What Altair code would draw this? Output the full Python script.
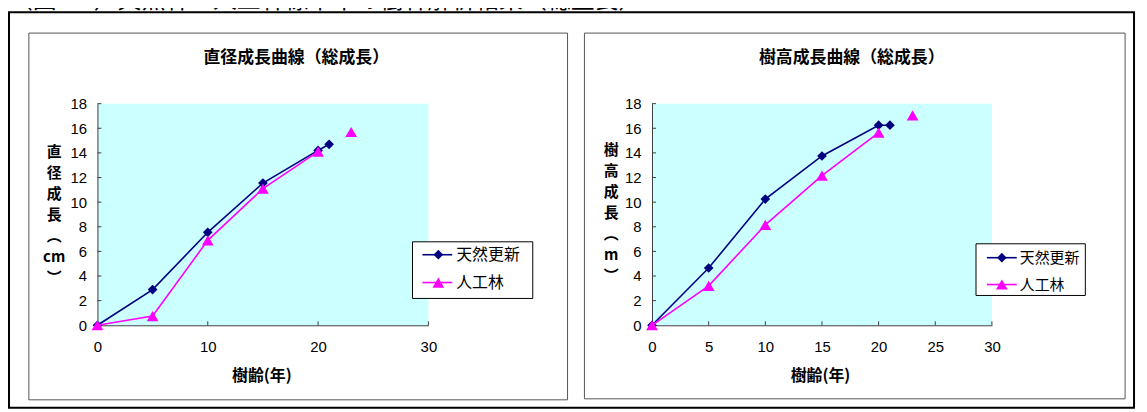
import altair as alt
import pandas as pd

# ---------------- data ----------------
ages_nat = [0, 5, 10, 15, 20, 21]
ages_art = [0, 5, 10, 15, 20, 23]
dia_nat = [0.0, 2.9, 7.55, 11.55, 14.2, 14.7]
dia_art = [0.0, 0.75, 6.9, 11.1, 14.1, 15.7]
hgt_nat = [0.0, 4.65, 10.25, 13.75, 16.25, 16.25]
hgt_art = [0.0, 3.2, 8.15, 12.15, 15.65, 17.05]
seg_nat = [1, 1, 1, 1, 1, 1]
seg_art = [1, 1, 1, 1, 1, 2]
series_names = ["天然更新", "人工林"]
series_colors = ["#000080", "#FF00FF"]
series_shapes = ["diamond", "triangle-up"]
left_xticks = [0, 10, 20, 30]
right_xticks = [0, 5, 10, 15, 20, 25, 30]
y_ticks = [0, 2, 4, 6, 8, 10, 12, 14, 16, 18]
left_title = "直径成長曲線（総成長）"
right_title = "樹高成長曲線（総成長）"
x_title = "樹齢(年)"
left_ytitle = ["直", "径", "成", "長", "︵", "cm", "︶"]
right_ytitle = ["樹", "高", "成", "長", "︵", "m", "︶"]
caption = "（図－6）天然林・人工林標準木の樹幹解析結果（総生長）"

JP = "Noto Sans CJK JP"
NUM = "Liberation Sans"
H = 223
AXC = "#404040"


def series_df(nat, art):
    rows = []
    for a, v, s in zip(ages_nat, nat, seg_nat):
        rows.append({"series": series_names[0], "age": a, "value": v, "seg": s})
    for a, v, s in zip(ages_art, art, seg_art):
        rows.append({"series": series_names[1], "age": a, "value": v, "seg": s})
    return pd.DataFrame(rows)


def one():
    return alt.Data(values=[{"k": 0}])


def rect(b, stroke, sw, fill=None):
    kw = dict(stroke=stroke, strokeWidth=sw)
    if fill is None:
        kw["fillOpacity"] = 0
    else:
        kw["fill"] = fill
    return alt.Chart(one()).mark_rect(**kw).encode(
        x=alt.value(b[0]), x2=alt.value(b[1]), y=alt.value(b[2]), y2=alt.value(b[3]))


def label(txt, x, y, size, weight="normal", align="center", baseline="middle"):
    return alt.Chart(one()).mark_text(
        font=JP, fontSize=size, fontWeight=weight, align=align, baseline=baseline, color="black"
    ).encode(x=alt.value(x), y=alt.value(y), text=alt.value(txt))


def panel(nat, art, xticks, width, title, ytitle, g, extra=None):
    df = series_df(nat, art)
    X = alt.X("age:Q", scale=alt.Scale(domain=[0, 30], nice=False),
              axis=alt.Axis(values=xticks, ticks=False, tickSize=0, grid=False,
                            domainColor=AXC, labelFont=NUM, labelFontSize=15,
                            labelColor="black", labelPadding=14, labelFlush=False,
                            title=x_title, titleFont=JP, titleFontSize=16,
                            titleFontWeight="bold", titleColor="black",
                            titleX=g["xt_x"], titleY=51, titleBaseline="middle",
                            titleAlign="center"))
    Y = alt.Y("value:Q", scale=alt.Scale(domain=[0, 18], nice=False),
              axis=alt.Axis(values=y_ticks, ticks=False, tickSize=0, grid=False,
                            domainColor=AXC, labelFont=NUM, labelFontSize=15,
                            labelColor="black", labelPadding=11, labelFlush=False,
                            title=ytitle, titleAngle=0, titleFont=JP, titleFontSize=15,
                            titleFontWeight="bold", titleColor="black",
                            titleX=g["yt_x"], titleY=g["yt_y"], titleBaseline="top",
                            titleAlign="center", titleLineHeight=21))
    C = alt.Color("series:N", scale=alt.Scale(domain=series_names, range=series_colors),
                  legend=None)
    base = alt.Chart(df)
    layers = []
    if extra:
        layers += extra
    layers.append(rect(g["box"], "#555555", 1))
    layers.append(label(title, g["title_x"], -46, 17, "bold"))
    layers.append(alt.Chart(pd.DataFrame({"age": xticks})).mark_rule(color=AXC).encode(
        x=X, y=alt.value(H), y2=alt.value(H - 4)))
    layers.append(alt.Chart(pd.DataFrame({"value": y_ticks})).mark_rule(color=AXC).encode(
        y=Y, x=alt.value(0), x2=alt.value(4)))
    sizes = [95, 140]
    for i, name in enumerate(series_names):
        sub = base.transform_filter(alt.datum.series == name)
        layers.append(sub.mark_line(strokeWidth=1.6).encode(x=X, y=Y, color=C, detail="seg:N"))
        layers.append(sub.mark_point(filled=True, opacity=1, size=sizes[i],
                                     shape=series_shapes[i]).encode(x=X, y=Y, color=C))
    # legend
    layers.append(rect(g["leg_box"], "black", 1, "white"))
    for i, name in enumerate(series_names):
        ry = g["leg_rows"][i]
        layers.append(alt.Chart(one()).mark_rule(color=series_colors[i], strokeWidth=1.6).encode(
            x=alt.value(g["leg_line"][0]), x2=alt.value(g["leg_line"][1]), y=alt.value(ry)))
        layers.append(alt.Chart(one()).mark_point(filled=True, opacity=1, size=sizes[i],
                                                  shape=series_shapes[i],
                                                  color=series_colors[i]).encode(
            x=alt.value(g["leg_mark"]), y=alt.value(ry)))
        layers.append(label(name, g["leg_text"], ry, g["leg_fs"], align="left"))
    return alt.layer(*layers).properties(width=width, height=H)


g_left = dict(box=(-69, 473, -71, 298), title_x=200, xt_x=165, yt_x=-44, yt_y=41.5,
              leg_box=(317, 438, 139, 196), leg_rows=[152, 180], leg_line=(327, 357),
              leg_mark=343, leg_text=361, leg_fs=16)
g_right = dict(box=(-68, 476, -71, 297), title_x=201, xt_x=169, yt_x=-41.5, yt_y=39.5,
               leg_box=(326, 436, 141, 193), leg_rows=[155, 182], leg_line=(337, 367),
               leg_mark=352, leg_text=370, leg_fs=15)

outer = [rect((-89, 1043, -92, 306), "black", 2),
         label(caption, -89, -91, 24, align="left", baseline="bottom")]

left = panel(dia_nat, dia_art, left_xticks, 333, left_title, left_ytitle, g_left, outer)
right = panel(hgt_nat, hgt_art, right_xticks, 342, right_title, right_ytitle, g_right)

chart = alt.hconcat(left, right, spacing=225, bounds="flush").configure_view(
    fill="#CCFFFF", stroke=None
).properties(padding={"left": 0, "top": -20, "right": 4, "bottom": 0}, background="white")

chart.save("out.html", embed_options={"renderer": "svg", "actions": False})
